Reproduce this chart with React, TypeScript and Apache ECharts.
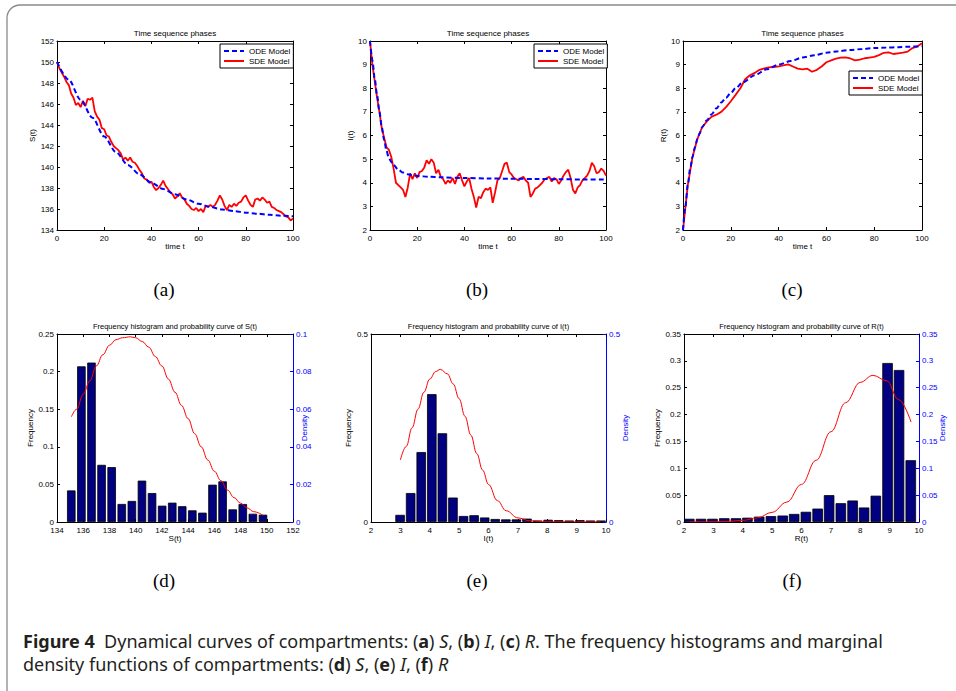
import React, { useEffect, useRef } from "react";
import * as echarts from "echarts";

// ---------------- data ----------------
// (a) S(t)
const odeSTime = [0, 5, 10, 15, 20, 25, 30, 35, 40, 45, 50, 55, 60, 65, 70, 75, 80, 85, 90, 95, 100];
const odeS = [150, 148.3, 146.4, 144.7, 142.9, 141.4, 140.2, 139.3, 138.5, 137.9, 137.4, 136.9, 136.5, 136.2, 135.95, 135.8, 135.65, 135.55, 135.45, 135.35, 135.3];
const sdeS = [
  150.0, 149.4, 149.0, 148.6, 148.1, 147.8, 147.0, 146.6, 145.9, 146.1,
  145.7, 146.3, 145.8, 146.5, 146.4, 146.6, 145.3, 144.8, 144.5, 143.7,
  143.6, 143.0, 142.9, 142.4, 142.0, 141.8, 141.6, 141.3, 140.7, 140.9,
  140.6, 140.9, 140.5, 140.4, 140.1, 139.7, 139.4, 138.9, 138.8, 138.5,
  138.6, 138.1, 137.8, 138.0, 138.3, 138.7, 138.2, 137.9, 137.6, 137.4,
  137.0, 137.2, 137.5, 137.1, 136.9, 136.5, 136.3, 136.0, 135.9, 136.1,
  135.8, 136.0, 135.7, 136.3, 136.2, 136.4, 136.2, 136.4, 136.8, 137.3,
  136.9, 136.3, 135.9, 136.4, 136.2, 136.5, 136.3, 136.6, 136.7, 137.1,
  137.3, 136.8, 136.4, 136.2, 136.9, 137.0, 136.8, 137.1, 136.9, 136.6,
  136.7, 136.2, 136.1, 135.9, 135.8, 135.7, 135.5, 135.3, 135.2, 134.9,
  135.1,
];
// (b) I(t)
const odeITime = [0, 1, 2, 3, 4, 5, 6, 7, 8, 9, 10, 12, 14, 16, 18, 20, 25, 30, 40, 50, 60, 70, 80, 90, 100];
const odeI = [10, 9.2, 8.4, 7.7, 7.0, 6.35, 5.8, 5.35, 5.05, 4.88, 4.75, 4.55, 4.43, 4.36, 4.32, 4.29, 4.25, 4.23, 4.2, 4.18, 4.17, 4.16, 4.15, 4.14, 4.14];
const sdeI = [
  10.0, 9.0, 8.3, 7.6, 7.0, 6.3, 5.9, 5.5, 5.4, 5.1,
  4.6, 4.0, 3.9, 3.8, 3.7, 3.4, 3.8, 4.4, 4.15, 4.4,
  4.2, 4.45, 4.5, 4.65, 4.95, 4.8, 5.0, 4.85, 4.4, 4.55,
  4.25, 4.15, 3.95, 4.1, 4.0, 4.2, 3.95, 4.25, 4.4, 4.1,
  3.85, 4.05, 4.2, 3.75, 3.4, 2.95, 3.4, 3.35, 3.6, 3.75,
  3.7, 3.8, 3.15, 3.6, 4.1, 4.2, 4.5, 4.8, 4.85, 4.45,
  4.35, 4.2, 4.15, 4.1, 4.2, 4.25, 4.1, 4.0, 3.4, 3.55,
  3.75, 3.8, 3.9, 4.0, 4.15, 4.2, 4.25, 4.05, 4.2, 4.15,
  3.95, 4.1, 4.3, 4.45, 4.55, 4.2, 3.7, 3.55, 3.8, 3.9,
  4.1, 4.2, 4.3, 4.5, 4.85, 4.7, 4.4, 4.45, 4.6, 4.5,
  4.3,
];
// (c) R(t)
const odeRTime = [0, 1, 2, 3, 4, 5, 6, 7, 8, 10, 12, 14, 16, 18, 20, 22, 25, 30, 35, 40, 45, 50, 55, 60, 65, 70, 75, 80, 85, 90, 95, 100];
const odeR = [2.0, 3.0, 3.9, 4.6, 5.1, 5.5, 5.85, 6.1, 6.35, 6.65, 6.9, 7.15, 7.4, 7.6, 7.8, 8.0, 8.25, 8.55, 8.8, 9.0, 9.15, 9.3, 9.4, 9.5, 9.57, 9.62, 9.66, 9.7, 9.72, 9.74, 9.76, 9.78];
const sdeR = [
  2.0, 3.9, 5.1, 5.85, 6.35, 6.6, 6.8, 6.88, 7.0, 7.2,
  7.45, 7.72, 8.0, 8.38, 8.55, 8.65, 8.78, 8.84, 8.88, 8.9,
  8.93, 8.97, 9.01, 8.92, 8.83, 8.8, 8.83, 8.7, 8.78, 8.92,
  9.1, 9.18, 9.25, 9.3, 9.31, 9.26, 9.18, 9.21, 9.27, 9.3,
  9.33, 9.4, 9.5, 9.52, 9.45, 9.48, 9.51, 9.55, 9.7, 9.77,
  9.9,
];

// (d) histogram of S
const sBins = [135.09, 135.86, 136.63, 137.4, 138.17, 138.94, 139.71, 140.48, 141.25, 142.02, 142.79, 143.55, 144.32, 145.09, 145.86, 146.63, 147.4, 148.17, 148.94, 149.71];
const sFreq = [0.042, 0.207, 0.212, 0.076, 0.073, 0.024, 0.028, 0.055, 0.0385, 0.0217, 0.0257, 0.021, 0.0155, 0.0124, 0.0496, 0.054, 0.0168, 0.0239, 0.011, 0.0097];
const sDensX = [135.1, 135.5, 136.0, 136.5, 137.0, 137.5, 138.0, 138.5, 139.0, 139.6, 140.0, 140.5, 141.0, 141.5, 142.0, 142.5, 143.0, 143.5, 144.0, 144.5, 145.0, 145.5, 146.0, 146.5, 147.0, 147.5, 148.0, 148.5, 149.0, 149.7];
const sDens = [0.056, 0.06, 0.068, 0.075, 0.083, 0.089, 0.094, 0.097, 0.098, 0.0985, 0.098, 0.096, 0.093, 0.088, 0.083, 0.076, 0.069, 0.062, 0.055, 0.047, 0.04, 0.033, 0.027, 0.022, 0.017, 0.013, 0.01, 0.0075, 0.0055, 0.0036];

// (e) histogram of I
const iBins = [2.99, 3.35, 3.71, 4.07, 4.43, 4.79, 5.15, 5.51, 5.87, 6.23, 6.59, 6.95, 7.31, 7.67, 8.03, 8.39, 8.75, 9.11, 9.47, 9.83];
const iFreq = [0.019, 0.077, 0.186, 0.34, 0.236, 0.065, 0.016, 0.018, 0.012, 0.008, 0.007, 0.007, 0.009, 0.004, 0.006, 0.005, 0.004, 0.005, 0.004, 0.004];
const iDensX = [3.0, 3.2, 3.4, 3.6, 3.8, 4.0, 4.2, 4.36, 4.6, 4.8, 5.0, 5.2, 5.4, 5.6, 5.8, 6.0, 6.3, 6.6, 7.0, 7.4, 8.0, 9.0, 9.8];
const iDens = [0.165, 0.201, 0.251, 0.3, 0.345, 0.38, 0.4, 0.406, 0.394, 0.367, 0.328, 0.281, 0.231, 0.182, 0.138, 0.1, 0.057, 0.03, 0.011, 0.0033, 0.0004, 0, 0];

// (f) histogram of R
const rBins = [2.18, 2.58, 2.97, 3.37, 3.77, 4.16, 4.56, 4.96, 5.36, 5.75, 6.15, 6.55, 6.94, 7.34, 7.74, 8.13, 8.53, 8.93, 9.32, 9.72];
const rFreq = [0.006, 0.006, 0.006, 0.007, 0.007, 0.008, 0.01, 0.011, 0.012, 0.015, 0.019, 0.025, 0.05, 0.035, 0.04, 0.027, 0.049, 0.296, 0.283, 0.115];
const rDensX = [2.2, 2.8, 3.4, 4.0, 4.5, 5.0, 5.5, 6.0, 6.5, 7.0, 7.5, 8.0, 8.43, 8.9, 9.3, 9.73];
const rDens = [0.0001, 0.0003, 0.0008, 0.003, 0.0077, 0.018, 0.037, 0.07, 0.115, 0.168, 0.222, 0.26, 0.273, 0.263, 0.228, 0.186];

const legendNames = ["ODE Model", "SDE Model"];
const lineTitle = "Time sequence phases";
const histTitles = [
  "Frequency histogram and probability curve of S(t)",
  "Frequency histogram and probability curve of I(t)",
  "Frequency histogram and probability curve of R(t)",
];
const panelLabels = ["(a)", "(b)", "(c)", "(d)", "(e)", "(f)"];

// ---------------- layout ----------------
const FONT = '"Liberation Sans", Arial, Helvetica, sans-serif';
const CAPFONT = '"Noto Sans", "Open Sans", sans-serif';
const BLUE = "#0000ff";
const RED = "#ff0000";
const NAVY = "#000080";

const grids = [
  { left: 57, top: 41, width: 236, height: 189 },
  { left: 370, top: 41, width: 236, height: 189 },
  { left: 683, top: 41, width: 239, height: 189 },
  { left: 57, top: 334, width: 236, height: 188 },
  { left: 371, top: 334, width: 235, height: 188 },
  { left: 684, top: 334, width: 235, height: 188 },
];

function base(color: string, margin = 3) {
  return {
    type: "value",
    axisLine: { show: true, onZero: false, lineStyle: { color, width: 1 } },
    axisTick: { show: true, inside: true, length: 3, lineStyle: { color, width: 1 } },
    axisLabel: { fontSize: 8, color, margin, fontFamily: FONT },
    splitLine: { show: false },
    nameTextStyle: { fontSize: 8, color, fontFamily: FONT },
  };
}

function xPair(g: number, min: number, max: number, interval: number, name: string) {
  return [
    { ...base("#000", 4), gridIndex: g, min, max, interval, position: "bottom", name, nameLocation: "middle", nameGap: 12 },
    { ...base("#000"), gridIndex: g, min, max, interval, position: "top", axisLabel: { show: false } },
  ];
}

function yPair(
  g: number,
  min: number,
  max: number,
  interval: number,
  name: string,
  nameGap: number,
  right?: { min: number; max: number; interval: number; name: string; nameGap: number }
) {
  const left = { ...base("#000"), gridIndex: g, min, max, interval, position: "left", name, nameLocation: "middle", nameGap, nameRotate: 90 };
  const r = right
    ? {
        ...base(BLUE),
        gridIndex: g,
        min: right.min,
        max: right.max,
        interval: right.interval,
        position: "right",
        name: right.name,
        nameLocation: "middle",
        nameGap: right.nameGap,
        nameRotate: 90,
        nameMoveOverlap: false,
      }
    : { ...base("#000"), gridIndex: g, min, max, interval, position: "right", axisLabel: { show: false } };
  return [left, r];
}

const pairs = (xs: number[], ys: number[]) => xs.map((x, i) => [x, ys[i]]);

export default function App() {
  const ref = useRef<HTMLDivElement>(null);

  useEffect(() => {
    if (!ref.current) return;
    const chart = echarts.init(ref.current, undefined, { renderer: "svg" });

    const t1 = sdeS.map((_, i) => i);
    const t2 = sdeR.map((_, i) => i * 2);

    const odeLine = (g: number, xs: number[], ys: number[]) => ({
      type: "line",
      name: "ODE Model",
      xAxisIndex: g * 2,
      yAxisIndex: g * 2,
      data: pairs(xs, ys),
      smooth: 0.3,
      smoothMonotone: "x",
      symbol: "none",
      z: 4,
      lineStyle: { color: BLUE, width: 2, type: [5, 3] },
      itemStyle: { color: BLUE },
    });
    const sdeLine = (g: number, xs: number[], ys: number[]) => ({
      type: "line",
      name: "SDE Model",
      xAxisIndex: g * 2,
      yAxisIndex: g * 2,
      data: pairs(xs, ys),
      symbol: "none",
      z: 3,
      lineStyle: { color: RED, width: 1.8 },
      itemStyle: { color: RED },
    });
    const hist = (g: number, name: string, xs: number[], ys: number[], bw: number) => ({
      type: "bar",
      name,
      xAxisIndex: g * 2,
      yAxisIndex: g * 2,
      data: pairs(xs, ys),
      barWidth: bw,
      itemStyle: { color: NAVY, borderColor: "#000", borderWidth: 0.8 },
    });
    const dens = (g: number, name: string, xs: number[], ys: number[]) => ({
      type: "line",
      name,
      xAxisIndex: g * 2,
      yAxisIndex: g * 2 + 1,
      data: pairs(xs, ys),
      smooth: 0.4,
      smoothMonotone: "x",
      symbol: "none",
      z: 5,
      lineStyle: { color: RED, width: 1 },
    });

    const legendBase = {
      data: legendNames,
      orient: "vertical",
      itemGap: 2,
      itemWidth: 20,
      itemHeight: 8,
      padding: [3, 3, 3, 3],
      borderColor: "#000",
      borderWidth: 1,
      backgroundColor: "#fff",
      selectedMode: false,
      itemStyle: { opacity: 0 },
      textStyle: { fontSize: 8, color: "#000", fontFamily: FONT },
    };

    const text = (x: number, y: number, s: string, font: string, extra: any = {}) => ({
      type: "text",
      x,
      y,
      z: 100,
      style: { text: s, font, fill: "#000", align: "center", verticalAlign: "middle", textAlign: "center", textVerticalAlign: "middle", ...extra },
    });

    const CAPSIZE = 18;
    const captionRich = {
      b: { fontFamily: CAPFONT, fontSize: CAPSIZE, fontWeight: "bold", fill: "#231f20", color: "#231f20" },
      i: { fontFamily: CAPFONT, fontSize: CAPSIZE, fontStyle: "italic", fill: "#231f20", color: "#231f20" },
    };

    const centers = grids.map((g) => g.left + g.width / 2);
    const serif = '19px "Liberation Serif", "DejaVu Serif", serif';

    const option: any = {
      animation: false,
      backgroundColor: "#fff",
      grid: grids.map((g) => ({ ...g, containLabel: false })),
      xAxis: [
        ...xPair(0, 0, 100, 20, "time t"),
        ...xPair(1, 0, 100, 20, "time t"),
        ...xPair(2, 0, 100, 20, "time t"),
        ...xPair(3, 134, 152, 2, "S(t)"),
        ...xPair(4, 2, 10, 1, "I(t)"),
        ...xPair(5, 2, 10, 1, "R(t)"),
      ],
      yAxis: [
        ...yPair(0, 134, 152, 2, "S(t)", 17),
        ...yPair(1, 2, 10, 1, "I(t)", 12),
        ...yPair(2, 2, 10, 1, "R(t)", 12),
        ...yPair(3, 0, 0.25, 0.05, "Frequency", 19, { min: 0, max: 0.1, interval: 0.02, name: "Density", nameGap: 7 }),
        ...yPair(4, 0, 0.5, 0.5, "Frequency", 16, { min: 0, max: 0.5, interval: 0.5, name: "Density", nameGap: 15 }),
        ...yPair(5, 0, 0.35, 0.05, "Frequency", 18, { min: 0, max: 0.35, interval: 0.05, name: "Density", nameGap: 19 }),
      ],
      legend: [
        { ...legendBase, left: 220, top: 44 },
        { ...legendBase, left: 534, top: 44 },
        { ...legendBase, left: 849, top: 71 },
      ],
      series: [
        sdeLine(0, t1, sdeS),
        odeLine(0, odeSTime, odeS),
        sdeLine(1, t1, sdeI),
        odeLine(1, odeITime, odeI),
        sdeLine(2, t2, sdeR),
        odeLine(2, odeRTime, odeR),
        hist(3, "S frequency", sBins, sFreq, 8.5),
        dens(3, "S density", sDensX, sDens),
        hist(4, "I frequency", iBins, iFreq, 9.5),
        dens(4, "I density", iDensX, iDens),
        hist(5, "R frequency", rBins, rFreq, 10.5),
        dens(5, "R density", rDensX, rDens),
      ],
      graphic: [
        {
          type: "rect",
          z: 0,
          shape: { x: 7, y: 5, width: 1000, height: 700, r: 13 },
          style: { fill: "none", stroke: "#8a8a8a", lineWidth: 1.3 },
        },
        text(centers[0], 33, lineTitle, `8px ${FONT}`),
        text(centers[1], 33, lineTitle, `8px ${FONT}`),
        text(centers[2], 33, lineTitle, `8px ${FONT}`),
        text(centers[3], 326, histTitles[0], `7.5px ${FONT}`),
        text(centers[4], 326, histTitles[1], `7.5px ${FONT}`),
        text(centers[5], 326, histTitles[2], `7.5px ${FONT}`),
        text(164, 289, panelLabels[0], serif),
        text(477, 289, panelLabels[1], serif),
        text(792, 289, panelLabels[2], serif),
        text(164, 580, panelLabels[3], serif),
        text(477, 580, panelLabels[4], serif),
        text(792, 580, panelLabels[5], serif),
        {
          type: "text",
          x: 23,
          y: 641,
          z: 100,
          style: {
            text: "{b|Figure 4}  Dynamical curves of compartments: ({b|a}) {i|S}, ({b|b}) {i|I}, ({b|c}) {i|R}. The frequency histograms and marginal",
            font: `${CAPSIZE}px ${CAPFONT}`,
            fill: "#231f20",
            align: "left",
            verticalAlign: "middle",
            textAlign: "left",
            textVerticalAlign: "middle",
            rich: captionRich,
          },
        },
        {
          type: "text",
          x: 23,
          y: 664,
          z: 100,
          style: {
            text: "density functions of compartments: ({b|d}) {i|S}, ({b|e}) {i|I}, ({b|f}) {i|R}",
            font: `${CAPSIZE}px ${CAPFONT}`,
            fill: "#231f20",
            align: "left",
            verticalAlign: "middle",
            textAlign: "left",
            textVerticalAlign: "middle",
            rich: captionRich,
          },
        },
      ],
    };

    chart.setOption(option);
    return () => chart.dispose();
  }, []);

  return (
    <div
      ref={ref}
      style={{ position: "absolute", left: 0, top: 0, width: 956, height: 691, background: "#fff" }}
    />
  );
}
